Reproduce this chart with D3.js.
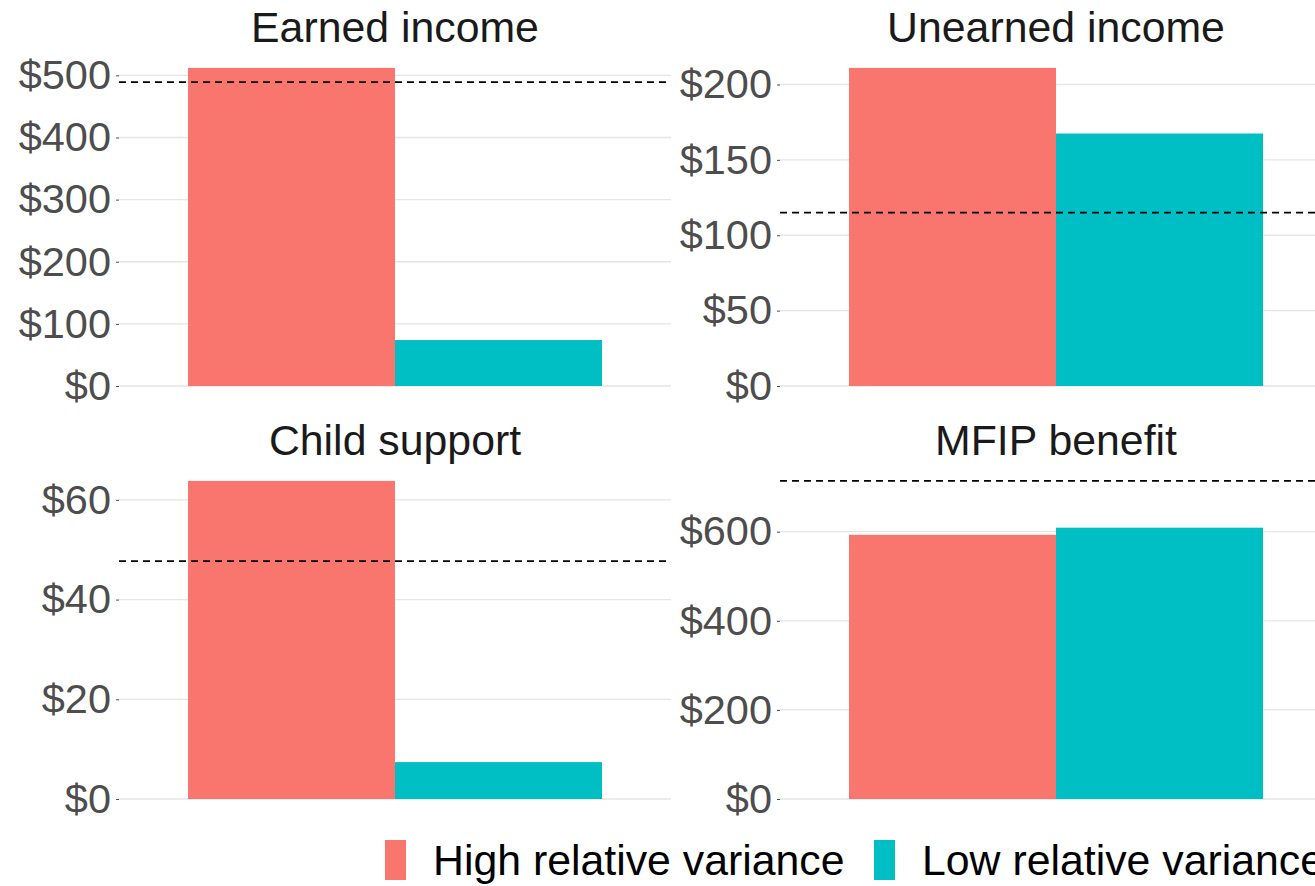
<!DOCTYPE html>
<html>
<head>
<meta charset="utf-8">
<script src="https://cdn.jsdelivr.net/npm/d3@7"></script>
<style>
  html, body { margin: 0; padding: 0; background: #fff; overflow: hidden; }
  svg { display: block; font-family: "Liberation Sans", Arial, sans-serif; }
</style>
</head>
<body>
<div id="chart"></div>
<script>
// data
const panels = ['Earned income', 'Unearned income', 'Child support', 'MFIP benefit'];
const groups = ['High relative variance', 'Low relative variance'];
const highValues = [512, 211, 63.8, 593];
const lowValues = [74, 167.5, 7.4, 609];
const refValues = [489, 115, 47.7, 714];
const tickSteps = [100, 50, 20, 200];

const width = 1315;
const height = 886;
const colors = d3.scaleOrdinal().domain(groups).range(['#F8766D', '#00BFC4']);

// facet layout (right column runs past the picture edge, as in the original)
const panelLeft = [119, 780];
const panelTop = [52, 465];
const panelW = 552;
const panelH = 334;
const tickFont = 41.5;
const textFont = 42.8;

const svg = d3.select('#chart')
  .append('svg')
  .attr('width', width)
  .attr('height', height);

panels.forEach((name, i) => {
  const col = i % 2;
  const row = Math.floor(i / 2);
  const g = svg.append('g').attr('transform', `translate(${panelLeft[col]},${panelTop[row]})`);

  const vals = [highValues[i], lowValues[i]];
  const yMax = d3.max([...vals, refValues[i]]) * 1.05;
  const y = d3.scaleLinear().domain([0, yMax]).range([panelH, 0]);
  const x = d3.scaleBand().domain([name]).range([0, panelW]).paddingInner(0).paddingOuter(1 / 6);
  const xInner = d3.scaleBand().domain(groups).range([0, x.bandwidth()]);
  const ticks = d3.range(0, yMax, tickSteps[i]);

  // grid
  g.append('g')
    .selectAll('line')
    .data(ticks)
    .join('line')
    .attr('x1', 0)
    .attr('x2', panelW)
    .attr('y1', d => y(d))
    .attr('y2', d => y(d))
    .attr('stroke', '#E5E5E5')
    .attr('stroke-width', 1.3);

  // axis
  const yAxis = g.append('g')
    .call(d3.axisLeft(y).tickValues(ticks).tickSize(3).tickPadding(5).tickFormat(d => '$' + d));
  yAxis.select('.domain').remove();
  yAxis.selectAll('.tick line').attr('stroke', '#4D4D4D');
  yAxis.selectAll('.tick text')
    .attr('fill', '#4D4D4D')
    .style('font-size', tickFont + 'px')
    .style('font-family', '"Liberation Sans", Arial, sans-serif');

  // bars
  g.append('g')
    .selectAll('rect')
    .data(groups.map((grp, k) => ({ grp, v: vals[k] })))
    .join('rect')
    .attr('x', d => x(name) + xInner(d.grp))
    .attr('width', xInner.bandwidth())
    .attr('y', d => y(d.v))
    .attr('height', d => panelH - y(d.v))
    .attr('fill', d => colors(d.grp));

  // reference line
  g.append('line')
    .attr('x1', 0)
    .attr('x2', panelW)
    .attr('y1', y(refValues[i]))
    .attr('y2', y(refValues[i]))
    .attr('stroke', '#000')
    .attr('stroke-width', 1.8)
    .attr('stroke-dasharray', '7,5');

  // strip title
  g.append('text')
    .attr('x', panelW / 2)
    .attr('y', -10)
    .attr('text-anchor', 'middle')
    .attr('fill', '#1A1A1A')
    .style('font-size', textFont + 'px')
    .text(name);
});

// legend
const legend = svg.append('g').attr('transform', 'translate(385,840)');
const legendX = [0, 489];
groups.forEach((grp, k) => {
  const item = legend.append('g').attr('transform', `translate(${legendX[k]},0)`);
  item.append('rect')
    .attr('width', 21)
    .attr('height', 40)
    .attr('fill', colors(grp));
  item.append('text')
    .attr('x', 48)
    .attr('y', 35)
    .attr('fill', '#000')
    .style('font-size', textFont + 'px')
    .text(grp);
});
</script>
</body>
</html>
